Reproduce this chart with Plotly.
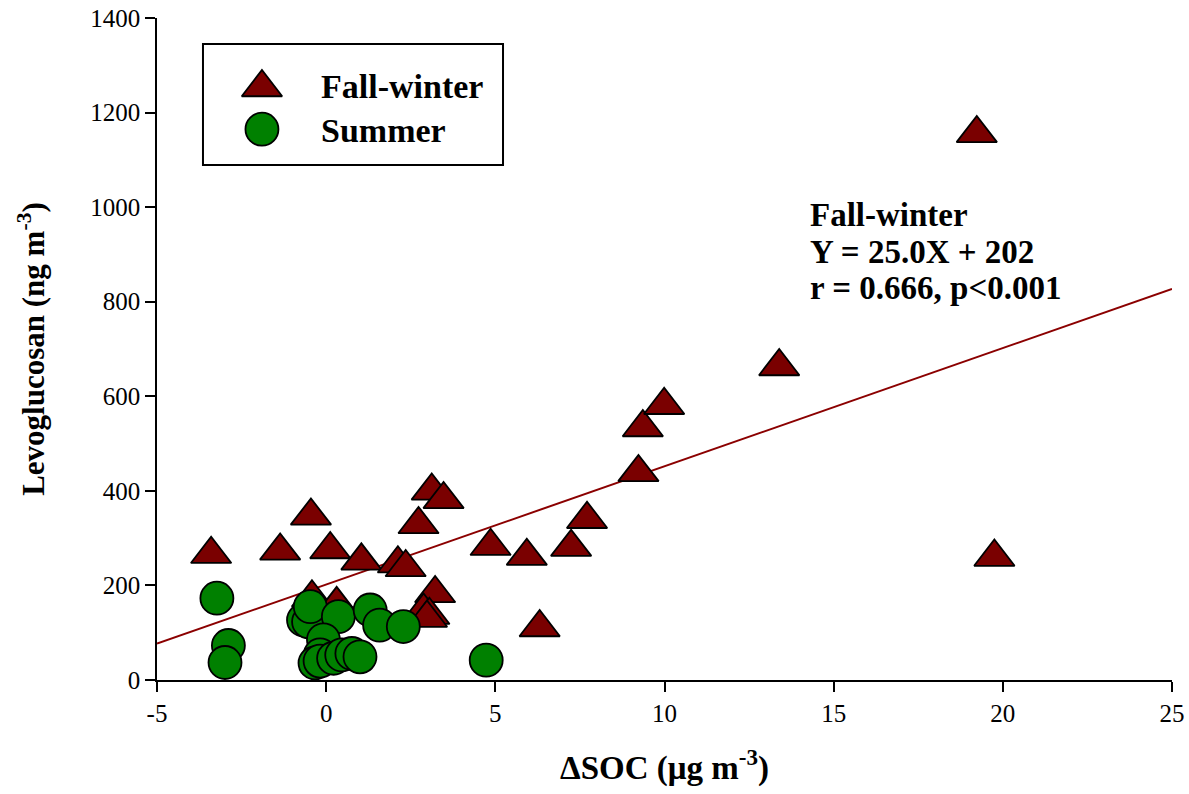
import plotly.graph_objects as go

# Fall-winter samples: ΔSOC (µg m-3) vs levoglucosan (ng m-3)
fw_soc = [-3.40, -1.36, -0.45, 0.12, 1.04, 2.12, 2.35, 2.73, 3.12, 3.47,
          4.86, -0.42, 0.31, 3.22, 2.88, 3.05, 2.98, 5.93, 6.31, 7.24,
          7.71, 9.23, 9.36, 9.99, 13.39, 19.23, 19.75]
fw_levo = [266, 273, 347, 276, 252, 246, 238, 329, 400, 382,
           283, 174, 160, 183, 146, 137, 131, 262, 111, 281,
           340, 439, 534, 581, 663, 1156, 260]

# Summer samples
su_soc = [-3.23, -2.89, -2.99, -0.67, -0.52, -0.47, 0.36, 1.30, 1.58, 2.28,
          -0.08, -0.18, -0.33, -0.18, 0.22, 0.46, 0.76, 1.00, 4.73]
su_levo = [173, 73, 37, 127, 123, 155, 134, 148, 116, 113,
           85, 53, 36, 40, 46, 53, 56, 49, 42]

# Fall-winter regression: Y = 25.0X + 202
slope, intercept = 25.0, 202
fit_x = [-5, 25]
fit_y = [slope * x + intercept for x in fit_x]

x_ticks = [-5, 0, 5, 10, 15, 20, 25]
y_ticks = [0, 200, 400, 600, 800, 1000, 1200, 1400]

MAROON = "#7a0000"
GREEN = "#008000"
SERIF = "Liberation Serif, Times New Roman, serif"

fw_marker = dict(symbol="triangle-up", size=35, color=MAROON,
                 line=dict(color="black", width=1.8))
su_marker = dict(symbol="circle", size=33, color=GREEN,
                 line=dict(color="black", width=1.8))

fig = go.Figure()

fig.add_trace(go.Scatter(x=fit_x, y=fit_y, mode="lines",
                         line=dict(color="#8b0000", width=2),
                         showlegend=False, hoverinfo="skip"))
fig.add_trace(go.Scatter(x=fw_soc, y=fw_levo, mode="markers", name="Fall-winter",
                         marker=fw_marker, showlegend=False))
fig.add_trace(go.Scatter(x=su_soc, y=su_levo, mode="markers", name="Summer",
                         marker=su_marker, showlegend=False))

# Legend keys drawn on a hidden unit overlay axis
fig.add_trace(go.Scatter(x=[0.1034], y=[0.895], mode="markers", marker=fw_marker,
                         xaxis="x2", yaxis="y2", showlegend=False, hoverinfo="skip"))
fig.add_trace(go.Scatter(x=[0.1034], y=[0.832], mode="markers", marker=su_marker,
                         xaxis="x2", yaxis="y2", showlegend=False, hoverinfo="skip"))

axis_common = dict(showgrid=False, zeroline=False, showline=True,
                   linecolor="black", linewidth=1.5, ticks="outside",
                   ticklen=10, tickwidth=1.5, tickcolor="black", automargin=False,
                   tickfont=dict(family=SERIF, size=25, color="black"))

fig.update_layout(
    width=1189, height=794,
    margin=dict(l=157, r=17, t=18, b=114),
    paper_bgcolor="white", plot_bgcolor="white",
    showlegend=False,
    xaxis=dict(range=[-5, 25], tickvals=x_ticks, ticktext=[str(v) for v in x_ticks],
               title=dict(text="<b>ΔSOC (μg m<sup>-3</sup>)</b>",
                          font=dict(family=SERIF, size=33, color="black"),
                          standoff=30),
               **axis_common),
    yaxis=dict(range=[0, 1400], tickvals=y_ticks, ticktext=[str(v) for v in y_ticks],
               title=dict(text="<b>Levoglucosan (ng m<sup>-3</sup>)</b>",
                          font=dict(family=SERIF, size=31, color="black"),
                          standoff=36),
               **axis_common),
    xaxis2=dict(range=[0, 1], overlaying="x", visible=False),
    yaxis2=dict(range=[0, 1], overlaying="y", anchor="x2", visible=False),
)

# Legend frame and labels
fig.add_shape(type="rect", xref="paper", yref="paper",
              x0=0.0453, x1=0.3409, y0=0.778, y1=0.9607,
              line=dict(color="black", width=2), fillcolor="rgba(0,0,0,0)")
legend_font = dict(family=SERIF, size=34, color="black")
fig.add_annotation(xref="paper", yref="paper", x=0.1596, y=0.8958,
                   xanchor="left", yanchor="middle", showarrow=False,
                   text="<b>Fall-winter</b>", font=legend_font)
fig.add_annotation(xref="paper", yref="paper", x=0.1596, y=0.8308,
                   xanchor="left", yanchor="middle", showarrow=False,
                   text="<b>Summer</b>", font=legend_font)

# Regression statistics
stat_font = dict(family=SERIF, size=33, color="black")
stat_lines = ["Fall-winter",
              f"Y = {slope:.1f}X + {intercept}",
              "r = 0.666, p<0.001"]
for line, ypos in zip(stat_lines, [0.7024, 0.6465, 0.5921]):
    fig.add_annotation(xref="paper", yref="paper", x=0.6414, y=ypos,
                       xanchor="left", yanchor="middle", showarrow=False,
                       text=f"<b>{line}</b>", font=stat_font)

fig.write_html("out.html")
